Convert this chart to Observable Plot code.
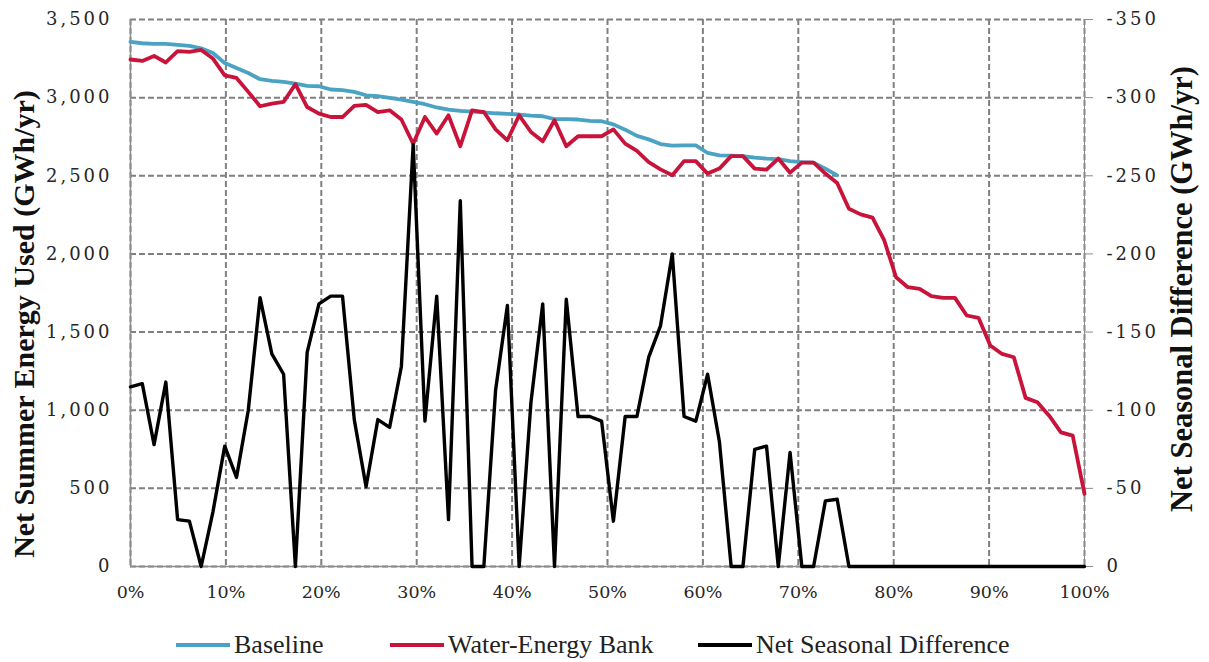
<!DOCTYPE html>
<html>
<head>
<meta charset="utf-8">
<script src="https://cdn.jsdelivr.net/npm/d3@7"></script>
<script src="https://cdn.jsdelivr.net/npm/@observablehq/plot@0.6"></script>
<style>
  body { margin: 0; background: #fff; }
  #wrap { position: relative; width: 1209px; height: 662px; overflow: hidden; }
  .leg { position: absolute; top: 628px; height: 34px; display: flex; align-items: center;
         font-family: "Liberation Serif", serif; font-size: 26px; color: #222; white-space: nowrap; }
  .sw { width: 54px; height: 4px; margin-right: 4px; }
</style>
</head>
<body>
<div id="wrap">
  <div id="chart"></div>
</div>
<script>
// ---- data ----
const nPoints = 82; // evenly spaced positions from 0% to 100%
const baseline = [3357,3348,3344,3344,3337,3331,3316,3286,3222,3190,
                  3158,3118,3107,3101,3090,3075,3073,3052,3048,3037,
                  3015,3009,2998,2988,2973,2958,2937,2924,2915,2911,
                  2906,2900,2896,2892,2885,2881,2862,2862,2860,2851,
                  2849,2829,2795,2755,2733,2703,2693,2695,2695,2646,
                  2631,2629,2625,2616,2610,2607,2594,2588,2584,2546,
                  2503];
const waterEnergyBank = [3244,3235,3267,3225,3297,3293,3305,3250,3143,3126,
                         3037,2945,2962,2973,3086,2940,2898,2876,2876,2947,
                         2954,2908,2919,2860,2705,2876,2770,2887,2689,2919,
                         2908,2797,2727,2887,2780,2721,2855,2689,2753,2753,
                         2753,2797,2706,2659,2588,2541,2503,2594,2594,2514,
                         2546,2626,2626,2546,2539,2610,2520,2584,2584,2514,
                         2454,2289,2253,2232,2086,1851,1787,1777,1730,1719,
                         1719,1606,1591,1414,1360,1339,1079,1051,965,858,
                         837,464];
const netSeasonalDiff = [-115,-117,-78,-118,-30,-29,0,-35,-77,-57,
                         -100,-172,-136,-123,0,-137,-168,-173,-173,-94,
                         -51,-94,-89,-128,-270,-93,-173,-30,-234,0,
                         0,-113,-167,0,-105,-168,0,-171,-96,-96,
                         -93,-29,-96,-96,-134,-154,-200,-96,-93,-123,
                         -80,0,0,-75,-77,0,-73,0,0,-42,
                         -43,0,0,0,0,0,0,0,0,0,
                         0,0,0,0,0,0,0,0,0,0,
                         0,0];
const xTicks = [0,0.1,0.2,0.3,0.4,0.5,0.6,0.7,0.8,0.9,1];
const yLeftTicks = [0,500,1000,1500,2000,2500,3000,3500];
const yRightTicks = [0,-50,-100,-150,-200,-250,-300,-350];
const seriesNames = ["Baseline","Water-Energy Bank","Net Seasonal Difference"];
const seriesColors = ["#4aa3c2","#c8143a","#000000"];
const yLeftTitle = "Net Summer Energy Used (GWh/yr)";
const yRightTitle = "Net Seasonal Difference (GWh/yr)";

// right axis maps 0..-350 onto left 0..3500
const ratio = -10;
const share = i => i / (nPoints - 1);
const baseRows = baseline.map((v, i) => ({x: share(i), y: v}));
const webRows = waterEnergyBank.map((v, i) => ({x: share(i), y: v}));
const netRows = netSeasonalDiff.map((v, i) => ({x: share(i), y: v * ratio}));

const grid = {stroke: "#808080", strokeOpacity: 1, strokeWidth: 2, strokeDasharray: "6,3"};

const chart = Plot.plot({
  width: 1209,
  height: 612,
  marginLeft: 130,
  marginRight: 125,
  marginTop: 19,
  marginBottom: 46,
  style: {fontFamily: "'DejaVu Serif', serif", fontSize: "17px", color: "#262626", background: "#fff"},
  x: {domain: [0, 1]},
  y: {domain: [0, 3500]},
  marks: [
    Plot.gridX(xTicks, grid),
    Plot.gridY(yLeftTicks, grid),
    Plot.ruleX([0], {stroke: "#8c8c8c", strokeWidth: 1.5}),
    Plot.ruleX([1], {stroke: "#8c8c8c", strokeWidth: 1}),
    Plot.ruleY([0], {stroke: "#8c8c8c", strokeWidth: 1.5}),
    Plot.axisX(xTicks, {tickSize: 0, tickPadding: 19, tickFormat: d3.format(".0%"), label: null, fontSize: 17.5}),
    Plot.axisY(yLeftTicks, {anchor: "left", tickSize: 0, tickPadding: 18, tickFormat: d3.format(","), label: null, fontSize: 18}),
    Plot.axisY(yRightTicks.map(v => v * ratio), {anchor: "right", tickSize: 8, stroke: "#8c8c8c", fill: "#262626", tickPadding: 14,
      tickFormat: d => String(d / ratio === 0 ? 0 : d / ratio), label: null, fontSize: 18}),
    Plot.text([yLeftTitle], {frameAnchor: "left", textAnchor: "middle", dx: -106, dy: 31, rotate: -90, fontSize: 30, fontWeight: "bold",
      fontFamily: "'Liberation Serif', serif", fill: "#111"}),
    Plot.text([yRightTitle], {frameAnchor: "right", textAnchor: "middle", dx: 98, dy: -4, rotate: -90, fontSize: 30.5, fontWeight: "bold",
      fontFamily: "'Liberation Serif', serif", fill: "#111"}),
    Plot.line(baseRows, {x: "x", y: "y", stroke: seriesColors[0], strokeWidth: 3.8}),
    Plot.line(webRows, {x: "x", y: "y", stroke: seriesColors[1], strokeWidth: 3.8}),
    Plot.line(netRows, {x: "x", y: "y", stroke: seriesColors[2], strokeWidth: 3.4})
  ]
});
d3.select(chart).selectAll('g[aria-label="y-axis tick label"] text').style("letter-spacing", "3px");
document.getElementById("chart").appendChild(chart);

// legend
const legLefts = [176, 390, 698];
const wrap = document.getElementById("wrap");
seriesNames.forEach((name, i) => {
  const d = document.createElement("div");
  d.className = "leg";
  d.style.left = legLefts[i] + "px";
  d.innerHTML = `<span class="sw" style="background:${seriesColors[i]}"></span><span>${name}</span>`;
  wrap.appendChild(d);
});
</script>
</body>
</html>
